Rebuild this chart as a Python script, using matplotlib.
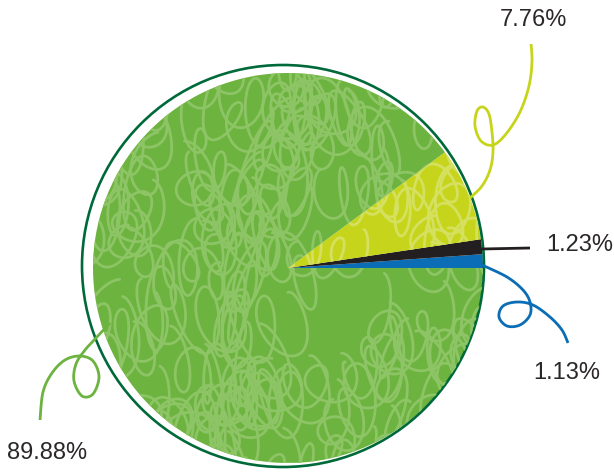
import numpy as np
import matplotlib
matplotlib.use('Agg')
import matplotlib.pyplot as plt
from matplotlib.patches import Circle
from matplotlib.collections import LineCollection

# shares, starting at 3 o'clock and going counter-clockwise
labels = ['1.13%', '1.23%', '7.76%', '89.88%']
shares = [1.13, 1.23, 7.76, 89.88]
colors = ['#0a6db5', '#231f20', '#c6d51c', '#6db33f']
scribble_colors = [None, None, '#d5e05f', '#8dc465']

# label placement (pixel space, y down)
label_pos = [(533, 373), (546, 245), (533, 20), (7, 453)]
label_ha = ['left', 'left', 'center', 'left']

center = (288, 268)
radius = 195

fig = plt.figure(figsize=(6.14, 4.76), dpi=100)
ax = fig.add_axes([0, 0, 1, 1])

wedges, _ = ax.pie(shares, colors=colors, center=center, radius=radius,
                   startangle=0, counterclock=False,
                   wedgeprops=dict(linewidth=0))
ax.set_xlim(0, 614)
ax.set_ylim(476, 0)
ax.set_aspect('equal')
ax.axis('off')

# scribble strokes covering the pie
rng = np.random.default_rng(5)
strokes = []
gx = np.arange(center[0] - radius - 30, center[0] + radius + 30, 58)
gy = np.arange(center[1] - radius - 30, center[1] + radius + 30, 46)
for x0 in gx:
    for y0 in gy:
        x0j = x0 + rng.uniform(-28, 28)
        y0j = y0 + rng.uniform(-22, 22)
        n = int(rng.integers(3, 6))
        t = np.linspace(0, 2 * np.pi * n, 120 * n)
        heading = rng.uniform(0, 2 * np.pi) + 0.3 * np.sin(t / 3.0 + rng.uniform(0, 6))
        speed = rng.uniform(3.5, 5.5)
        dx = np.cumsum(np.cos(heading)) * speed * (t[1] - t[0])
        dy = np.cumsum(np.sin(heading)) * speed * (t[1] - t[0])
        rx = rng.uniform(10, 18) * (1 + 0.2 * np.sin(t / 2.3))
        ry = rng.uniform(20, 34) * (1 + 0.2 * np.cos(t / 1.7))
        tilt = rng.uniform(-0.4, 0.4)
        ex = rx * np.sin(t)
        ey = -ry * np.cos(t)
        px = x0j + dx + ex * np.cos(tilt) - ey * np.sin(tilt)
        py = y0j + dy + ex * np.sin(tilt) + ey * np.cos(tilt)
        strokes.append(np.column_stack([px, py]))

for w, sc in zip(wedges, scribble_colors):
    if sc is None:
        continue
    lc = LineCollection(strokes, colors=sc, linewidths=2.0, capstyle='round')
    ax.add_collection(lc)
    lc.set_clip_path(w)

# outer ring
ax.add_patch(Circle((283, 266), 201, facecolor='none',
                    edgecolor='#00693a', lw=1.9))


def smooth(pts, n=20):
    # Catmull-Rom through the control points
    p = np.asarray(pts, float)
    p = np.vstack([p[0], p, p[-1]])
    out = []
    for i in range(1, len(p) - 2):
        p0, p1, p2, p3 = p[i - 1], p[i], p[i + 1], p[i + 2]
        for s in np.linspace(0, 1, n, endpoint=False):
            out.append(0.5 * ((2 * p1) + (-p0 + p2) * s
                              + (2 * p0 - 5 * p1 + 4 * p2 - p3) * s ** 2
                              + (-p0 + 3 * p1 - 3 * p2 + p3) * s ** 3))
    out.append(p[-2])
    return np.array(out)


# curly leader lines
leaders = [
    ([(482, 265), (507, 277), (523, 290), (530, 302), (530, 315), (520, 325),
      (507, 326), (499, 317), (503, 306), (517, 302), (533, 305), (550, 317),
      (562, 330), (568, 343)], colors[0]),
    ([(482, 249), (530, 248)], colors[1]),
    ([(470, 198), (482, 186), (490, 170), (493, 152), (492, 132), (489, 114),
      (483, 107), (477, 111), (475, 126), (481, 141), (493, 145), (506, 134),
      (520, 112), (529, 86), (532, 62), (531, 44)], colors[2]),
    ([(110, 323), (97, 337), (85, 350), (76, 364), (74, 381), (82, 396),
      (93, 394), (99, 377), (93, 361), (80, 356), (65, 360), (52, 373),
      (43, 392), (40, 420)], colors[3]),
]
for pts, c in leaders:
    xy = smooth(pts)
    ax.plot(xy[:, 0], xy[:, 1], color=c, lw=2.0, solid_capstyle='butt')

for lab, (x, y), ha in zip(labels, label_pos, label_ha):
    ax.text(x, y, lab, ha=ha, va='center', fontsize=17,
            family='Liberation Sans', color='#2b2727')

fig.savefig('out.png', dpi=100)
